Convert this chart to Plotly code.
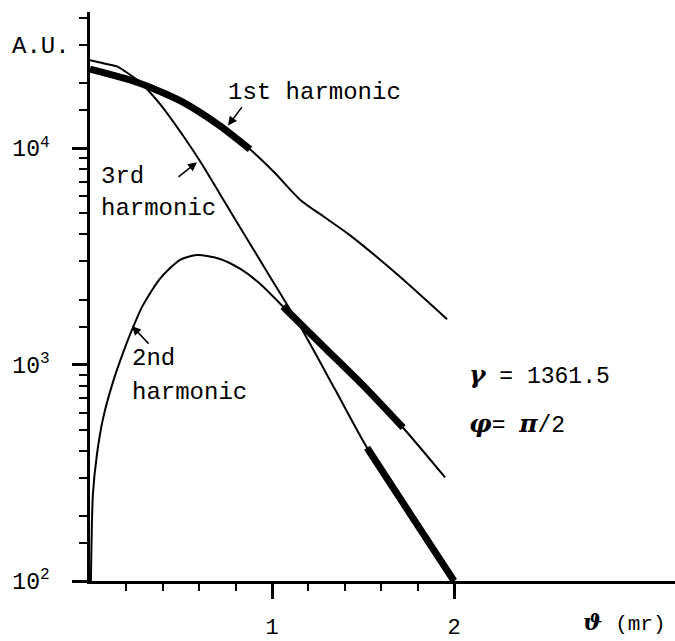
import plotly.graph_objects as go

# Angular distribution of undulator harmonics (log intensity vs. observation angle)
theta_1st = [0.0, 0.258, 0.495, 0.714, 0.879, 1.016, 1.154, 1.291, 1.429, 1.703, 1.962]
au_1st = [23200, 20200, 16600, 12700, 9890, 7690, 5790, 4790, 3960, 2550, 1622]

theta_2nd = [0.005, 0.016, 0.038, 0.071, 0.126, 0.181, 0.231, 0.286, 0.385, 0.495,
             0.588, 0.714, 0.824, 0.934, 1.060, 1.302, 1.511, 1.720, 1.951]
au_2nd = [100, 252, 384, 560, 830, 1130, 1450, 1850, 2500, 3050,
          3210, 3080, 2776, 2366, 1858, 1170, 785, 511, 301]

theta_3rd = [0.0, 0.055, 0.148, 0.192, 0.275, 0.385, 0.522, 0.604, 0.769, 0.989,
             1.154, 1.346, 1.522, 1.758, 2.0]
au_3rd = [25500, 24900, 23900, 22700, 20200, 16000, 11100, 8730, 5150, 2550,
          1507, 769, 413, 205, 100]

# angular windows drawn with a heavy stroke
bold_1st = (0.0, 0.879)
bold_2nd = (1.060, 1.720)
bold_3rd = (1.522, 2.0)

y_major = [100, 1000, 10000]
y_major_text = ["10<sup>2</sup>", "10<sup>3</sup>", "10<sup>4</sup>"]
y_minor = [m * d for d in (100, 1000, 10000) for m in (1.5, 2, 3, 4, 5, 6, 7, 8, 9)
           if m * d <= 40000]
x_major = [1, 2]
x_major_text = ["1", "2"]
x_minor = [0.2, 0.4, 0.6, 0.8, 1.2, 1.4, 1.6, 1.8]

MONO = "Liberation Mono"
W, H = 675, 641
L, R, T, B = 90, 0, 12, 53


def window(xs, ys, lo, hi):
    pts = [(x, y) for x, y in zip(xs, ys) if lo - 1e-9 <= x <= hi + 1e-9]
    return [p[0] for p in pts], [p[1] for p in pts]


fig = go.Figure()
for xs, ys, win in ((theta_1st, au_1st, bold_1st),
                    (theta_2nd, au_2nd, bold_2nd),
                    (theta_3rd, au_3rd, bold_3rd)):
    fig.add_trace(go.Scatter(x=xs, y=ys, mode="lines",
                             line=dict(color="black", width=2, shape="spline", smoothing=0.7),
                             hoverinfo="skip"))
    bx, by = window(xs, ys, *win)
    fig.add_trace(go.Scatter(x=bx, y=by, mode="lines",
                             line=dict(color="black", width=7, shape="spline", smoothing=0.7),
                             hoverinfo="skip"))


def px(xp, yp):
    # page pixel -> paper fraction
    return (xp - L) / (W - L - R), (H - B - yp) / (H - T - B)


def label(text, xp, yp, anchor="left", size=24):
    x, y = px(xp, yp)
    fig.add_annotation(x=x, y=y, xref="paper", yref="paper", text=text, showarrow=False,
                       xanchor=anchor, yanchor="middle",
                       font=dict(family=MONO, size=size, color="black"))


def pointer(x_head, y_head, dx, dy):
    x, y = px(x_head, y_head)
    fig.add_annotation(x=x, y=y, xref="paper", yref="paper", text="", showarrow=True,
                       ax=dx, ay=dy, arrowhead=2, arrowsize=1.2, arrowwidth=1.5,
                       arrowcolor="black")


def greek(ch, size=25):
    return ("<span style=\"font-family:'DejaVu Serif';font-size:%dpx\">" % size
            + "<b><i>" + ch + "</i></b></span>")


label("A.U.", 10, 47)
label("1st harmonic", 226, 93)
label("3rd", 99, 179)
label("harmonic", 99, 211)
label("2nd", 130, 363)
label("harmonic", 130, 397)
label(greek("γ") + " = 1361.5", 467, 379, size=23)
label(greek("φ") + "= " + greek("π") + "/2", 467, 429, size=23)
label(greek("ϑ", 23) + " (mr)", 668, 630, anchor="right", size=21)

pointer(228, 127, 15, -20)
pointer(197, 164, -20, 16)
pointer(132, 330, 18, 19)

fig.update_layout(
    width=W, height=H, margin=dict(l=L, r=R, t=T, b=B),
    paper_bgcolor="white", plot_bgcolor="white", showlegend=False,
    font=dict(family=MONO, size=22, color="black"),
    xaxis=dict(range=[0, 3.214], showgrid=False, zeroline=False,
               showline=True, linecolor="black", linewidth=2.5,
               tickmode="array", tickvals=x_major, ticktext=x_major_text,
               ticks="outside", ticklen=15, tickwidth=2.5, tickcolor="black",
               tickfont=dict(family=MONO, size=22), ticklabelstandoff=9,
               minor=dict(tickvals=x_minor, ticks="outside", ticklen=7,
                          tickwidth=2, tickcolor="black", showgrid=False)),
    yaxis=dict(type="log", range=[2, 4.63], showgrid=False, zeroline=False,
               showline=True, linecolor="black", linewidth=2.5,
               tickmode="array", tickvals=y_major, ticktext=y_major_text,
               ticks="outside", ticklen=15, tickwidth=2.5, tickcolor="black",
               tickfont=dict(family=MONO, size=23), ticklabelstandoff=18,
               minor=dict(tickvals=y_minor, ticks="outside", ticklen=8,
                          tickwidth=2, tickcolor="black", showgrid=False)),
)

fig.write_html("out.html")
